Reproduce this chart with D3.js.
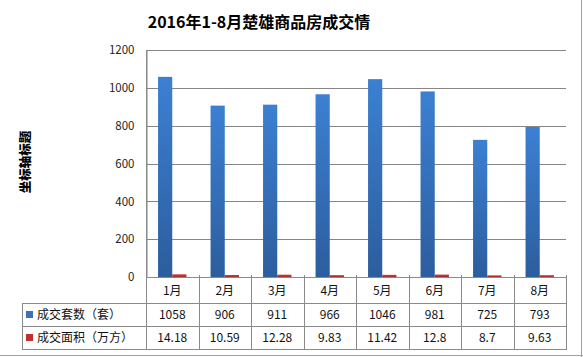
<!DOCTYPE html>
<html><head><meta charset="utf-8">
<script src="https://cdn.jsdelivr.net/npm/d3@7"></script>
<style>
html,body{margin:0;padding:0;background:#fff;}
svg{display:block;font-family:"Noto Sans CJK SC","Noto Sans",sans-serif;}
</style></head>
<body>
<svg id="c" width="583" height="357"></svg>
<script>
const title = "2016年1-8月楚雄商品房成交情";
const yAxisTitle = "坐标轴标题";
const categories = ["1月","2月","3月","4月","5月","6月","7月","8月"];
const seriesNames = ["成交套数（套）","成交面积（万方）"];
const units = [1058, 906, 911, 966, 1046, 981, 725, 793];
const areas = [14.18, 10.59, 12.28, 9.83, 11.42, 12.8, 8.7, 9.63];
const areaLabels = ["14.18","10.59","12.28","9.83","11.42","12.8","8.7","9.63"];
const yTicks = [0, 200, 400, 600, 800, 1000, 1200];

const svg = d3.select("#c");
const L = 146, R = 566, T = 50, B = 277;
const rowH = [26, 23, 23];
const tableLeft = 22;

const defs = svg.append("defs");
const gb = defs.append("linearGradient").attr("id","gb").attr("x1",0).attr("x2",0).attr("y1",0).attr("y2",1);
gb.append("stop").attr("offset","0%").attr("stop-color","#3c80d2");
gb.append("stop").attr("offset","100%").attr("stop-color","#2c5d9e");
const gr = defs.append("linearGradient").attr("id","gr").attr("x1",0).attr("x2",0).attr("y1",0).attr("y2",1);
gr.append("stop").attr("offset","0%").attr("stop-color","#c8413e");
gr.append("stop").attr("offset","100%").attr("stop-color","#a52a28");

const x = d3.scaleBand().domain(categories).range([L, R]).paddingInner(0).paddingOuter(0);
const y = d3.scaleLinear().domain([0, 1200]).range([B, T]);
const barW = 14.2;

// title
svg.append("text").attr("x", 259).attr("y", 28).attr("text-anchor","middle")
  .attr("font-size", 16).attr("font-weight","bold").attr("fill","#000").text(title);

// y-axis title
svg.append("text").attr("transform","translate(30,162) rotate(-90)")
  .attr("text-anchor","middle").attr("font-size",12.5).attr("font-weight","900").attr("fill","#000").text(yAxisTitle);

// gridlines
svg.append("g").selectAll("line").data(yTicks).join("line")
  .attr("x1", L).attr("x2", R).attr("y1", d => Math.round(y(d))+0.5).attr("y2", d => Math.round(y(d))+0.5)
  .attr("stroke","#868686").attr("stroke-width",1);

// y axis
const yAxis = d3.axisLeft(y).tickValues(yTicks).tickFormat(d3.format("d")).tickSize(0).tickPadding(12);
const ga = svg.append("g").attr("transform",`translate(${L+0.5},0)`).call(yAxis);
ga.select(".domain").attr("stroke","#868686");
ga.selectAll("text").attr("font-size",11.5).attr("fill","#222").attr("font-family","'Noto Sans CJK SC',sans-serif");

// bars
svg.append("g").selectAll("rect").data(units).join("rect")
  .attr("x",(d,i)=> x(categories[i]) + x.bandwidth()/2 - barW)
  .attr("width", barW)
  .attr("y", d => y(d)).attr("height", d => B - y(d))
  .attr("fill","url(#gb)");
svg.append("g").selectAll("rect").data(areas).join("rect")
  .attr("x",(d,i)=> x(categories[i]) + x.bandwidth()/2)
  .attr("width", barW)
  .attr("y", d => y(d)).attr("height", d => B - y(d))
  .attr("fill","url(#gr)");

// table
const tb = svg.append("g").attr("stroke","#8a8a8a").attr("stroke-width",1).attr("fill","none");
const y0 = B, y1 = B + rowH[0], y2 = y1 + rowH[1], y3 = y2 + rowH[2];
tb.append("line").attr("x1",L).attr("x2",R+0.5).attr("y1",y0+0.5).attr("y2",y0+0.5);
tb.append("line").attr("x1",tableLeft).attr("x2",R+0.5).attr("y1",y1+0.5).attr("y2",y1+0.5);
tb.append("line").attr("x1",tableLeft).attr("x2",R+0.5).attr("y1",y2+0.5).attr("y2",y2+0.5);
tb.append("line").attr("x1",tableLeft).attr("x2",R+0.5).attr("y1",y3+0.5).attr("y2",y3+0.5);
tb.append("line").attr("x1",tableLeft+0.5).attr("x2",tableLeft+0.5).attr("y1",y1).attr("y2",y3+1);
const bounds = categories.map(c => x(c)).concat([R]);
tb.selectAll("line.v").data(bounds).join("line").attr("class","v")
  .attr("x1", d => Math.round(d)+0.5).attr("x2", d => Math.round(d)+0.5)
  .attr("y1", (d,i) => i===0 ? T : y0-2).attr("y2", y3+1);

const tt = svg.append("g").attr("font-size",12).attr("fill","#111").attr("text-anchor","middle");
tt.selectAll("text.cat").data(categories).join("text").attr("class","cat")
  .attr("x", d => x(d) + x.bandwidth()/2).attr("y", y0 + rowH[0]/2 + 4.5).text(d => d);
tt.selectAll("text.u").data(units).join("text").attr("class","u")
  .attr("x", (d,i) => x(categories[i]) + x.bandwidth()/2).attr("y", y1 + rowH[1]/2 + 4.5).text(d => d);
tt.selectAll("text.a").data(areaLabels).join("text").attr("class","a")
  .attr("x", (d,i) => x(categories[i]) + x.bandwidth()/2).attr("y", y2 + rowH[2]/2 + 4.5).text(d => d);

const legColors = ["#3b72b8","#c0302e"];
seriesNames.forEach((n,i) => {
  const cy = (i===0 ? y1 : y2) + rowH[1]/2;
  svg.append("rect").attr("x",26).attr("y",cy-3.5).attr("width",7).attr("height",7).attr("fill",legColors[i]);
  svg.append("text").attr("x",37).attr("y",cy+4.5).attr("font-size",12).attr("fill","#111").text(n);
});

svg.append("line").attr("x1",581.5).attr("x2",581.5).attr("y1",0).attr("y2",357).attr("stroke","#a0a0a0");
svg.append("line").attr("x1",0).attr("x2",583).attr("y1",355.5).attr("y2",355.5).attr("stroke","#a0a0a0");
</script>
</body></html>
